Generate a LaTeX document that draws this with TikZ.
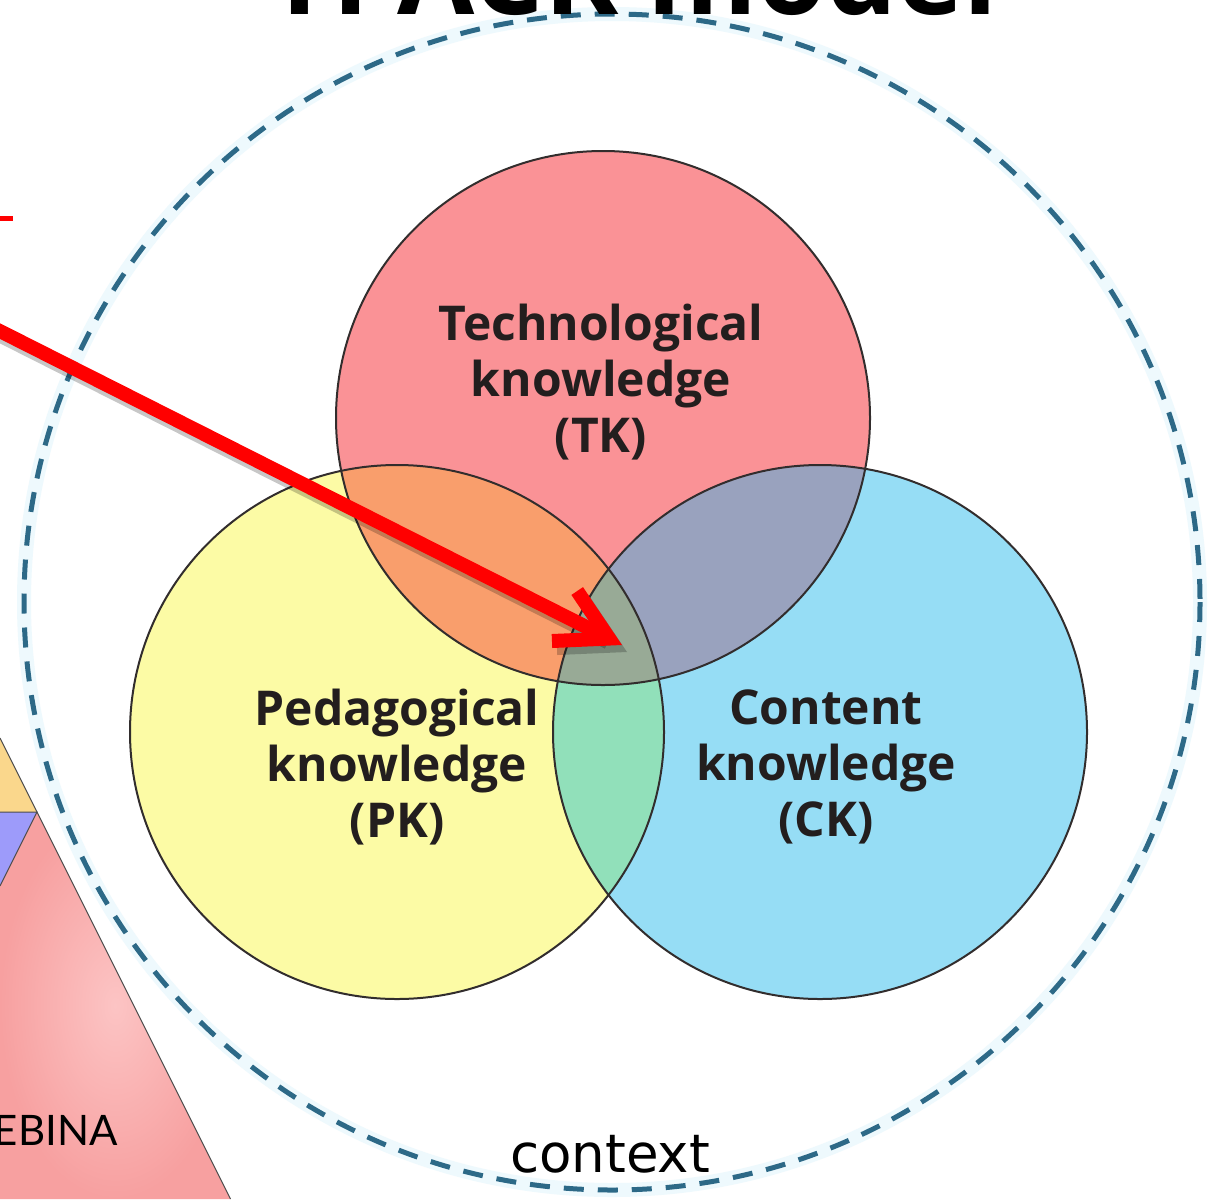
\documentclass[tikz,border=0pt]{standalone}
\usepackage{fontspec}
\setmainfont{Open Sans}
\newfontfamily\ctxfont{DejaVu Sans}
\newfontfamily\ebfont{Lato}
\usetikzlibrary{arrows.meta}
\definecolor{tkc}{RGB}{250,146,150}
\definecolor{pkc}{RGB}{252,251,165}
\definecolor{ckc}{RGB}{150,221,245}
\definecolor{tpc}{RGB}{249,158,108}
\definecolor{tcc}{RGB}{153,162,190}
\definecolor{pcc}{RGB}{145,224,186}
\definecolor{allc}{RGB}{152,170,150}
\definecolor{dashc}{RGB}{45,105,135}
\definecolor{glowc}{RGB}{238,249,253}
\definecolor{ringc}{RGB}{50,45,45}
\definecolor{txtc}{RGB}{35,30,30}
\definecolor{orangeband}{RGB}{250,215,140}
\definecolor{purpleband}{RGB}{157,155,250}
\definecolor{pinkin}{RGB}{252,196,196}
\definecolor{pinkout}{RGB}{247,160,160}
\begin{document}
\begin{tikzpicture}[x=0.5pt,y=-0.5pt,
  ring/.style={draw=ringc, line width=1pt},
  lab/.style={font=\fontsize{24}{28}\selectfont\bfseries, text=txtc, align=center, inner sep=0pt},
  edgeline/.style={draw=black!70, line width=0.5pt},
  ctxdash/.style={draw=dashc, line width=2.5pt, dash pattern=on 10pt off 7pt},
  glowline/.style={draw=glowc, line width=7pt},
  redarrow/.style={draw=red, line width=7pt, -{Straight Barb[length=25pt,width=28pt]}},
  shadowarrow/.style={draw=black, opacity=0.22, line width=7pt, -{Straight Barb[length=25pt,width=28pt]}}
]
\useasboundingbox (0,0) rectangle (1214,1199);
\clip (0,0) rectangle (1214,1199);
\fill[white] (0,0) rectangle (1214,1199);

% left pyramid fragment
\fill[orangeband] (0,738) -- (37,812) -- (0,812) -- cycle;
\fill[purpleband] (0,812) -- (37,812) -- (0,886) -- cycle;
\shade[inner color=pinkin, outer color=pinkout] (37,812) -- (230.5,1199) -- (0,1199) -- (0,886) -- cycle;
\draw[edgeline] (0,738) -- (230.5,1199);
\draw[edgeline] (0,812) -- (37,812) -- (0,886);
\node[font=\ebfont\fontsize{21}{24}\selectfont, anchor=base east, inner sep=0pt] (ebina) at (118,1145) {EBINA};

% short red line
\draw[red, line width=2.5pt] (-5,218) -- (13,218);

% context circle
\coordinate (ctx) at (612,602);
\draw[glowline] (ctx) circle (588);
\draw[ctxdash] (ctx) circle (588);
\node[font=\ctxfont\fontsize{26.5}{30}\selectfont, anchor=base, inner sep=0pt] (context) at (610,1172) {context};

% title
\node[font=\fontsize{56}{60}\selectfont\bfseries, anchor=base, inner sep=0pt] (title) at (633,14) {TPACK model};

% circles
\coordinate (T) at (603,418);
\coordinate (P) at (397,732);
\coordinate (C) at (820,732);
\def\R{267}
\fill[tkc] (T) circle (\R);
\fill[pkc] (P) circle (\R);
\fill[ckc] (C) circle (\R);
\begin{scope}
  \clip (T) circle (\R);
  \fill[tpc] (P) circle (\R);
  \fill[tcc] (C) circle (\R);
\end{scope}
\begin{scope}
  \clip (P) circle (\R);
  \fill[pcc] (C) circle (\R);
  \clip (C) circle (\R);
  \fill[allc] (T) circle (\R);
\end{scope}
\draw[ring] (T) circle (\R);
\draw[ring] (P) circle (\R);
\draw[ring] (C) circle (\R);

\node[lab] (tk) at (601,382) {Technological\\knowledge\\(TK)};
\node[lab] (pk) at (397,767) {Pedagogical\\knowledge\\(PK)};
\node[lab] (ck) at (826,767) {Content\\knowledge\\(CK)};

% arrow
\coordinate (astart) at (-20,321);
\coordinate (atip) at (622,645);
\draw[shadowarrow] ([shift={(5,7)}]astart) -- ([shift={(5,7)}]atip);
\draw[redarrow] (astart) -- (atip);
\end{tikzpicture}
\end{document}
